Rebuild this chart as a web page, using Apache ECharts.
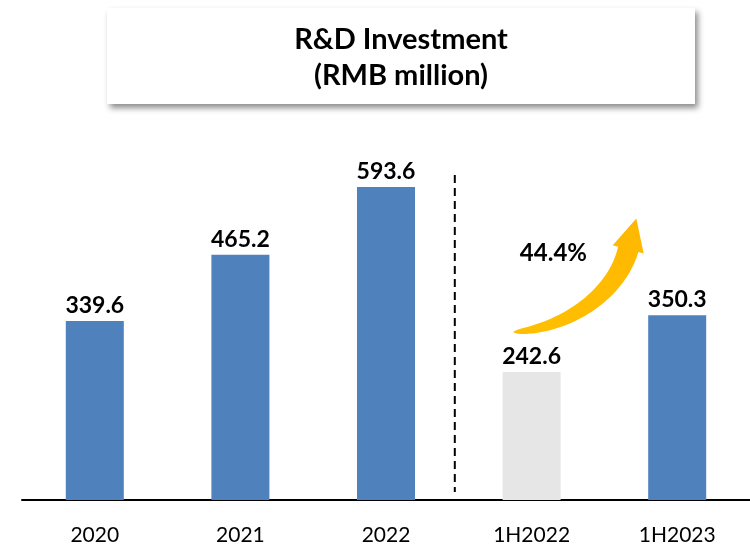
<!DOCTYPE html>
<html>
<head>
<meta charset="utf-8">
<script src="https://cdn.jsdelivr.net/npm/echarts@6/dist/echarts.min.js"></script>
<style>
    html, body { margin: 0; padding: 0; background: #fff; }
    #main { width: 750px; height: 546px; }
</style>
</head>
<body>
<div id="main"></div>
<script>
// ------ data ------
var categories = ["2020", "2021", "2022", "1H2022", "1H2023"];
var values = [339.6, 465.2, 593.6, 242.6, 350.3];
var growthLabel = "44.4%";
var titleLines = ["R&D Investment", "(RMB million)"];

var blue = "#4F81BD";
var grey = "#E6E6E6";
var font = "Lato";

var chart = echarts.init(document.getElementById("main"));

var option = {
    animation: false,
    grid: {
        left: 22,
        right: 0,
        top: 131,
        bottom: 46
    },
    xAxis: {
        type: "category",
        data: categories,
        axisTick: { show: false },
        axisLine: {
            lineStyle: { color: "#000", width: 2 }
        },
        axisLabel: {
            color: "#000",
            fontFamily: font,
            fontSize: 21,
            margin: 25
        }
    },
    yAxis: {
        type: "value",
        min: 0,
        max: 700,
        show: false
    },
    series: [
        {
            type: "bar",
            barWidth: 58,
            data: values.map(function (v, i) {
                return {
                    value: v,
                    // 1H2022 是灰色对比柱
                    itemStyle: { color: categories[i] === "1H2022" ? grey : blue }
                };
            }),
            label: {
                show: true,
                position: "top",
                distance: 4,
                color: "#000",
                fontFamily: font,
                fontWeight: "bold",
                fontSize: 23,
                formatter: function (p) { return p.value.toFixed(1); }
            }
        }
    ]
};
chart.setOption(option);

// ------ 标题框 + 分隔线 + 箭头 ------
function px(cat, v) {
    return chart.convertToPixel({ gridIndex: 0 }, [cat, v]);
}

var pA = px("2022", 0);
var pB = px("1H2022", 0);
var sepX = (pA[0] + pB[0]) / 2 - 4;
var baseY = pA[1];
var topY = px("2022", 593.6)[1] - 12;

// 弯箭头: 从 1H2022 上方弯向 1H2023 (三次贝塞尔)
var t0 = px("1H2022", values[3]);
var t1 = px("1H2023", values[4]);
var tail = [t0[0] - 18, t0[1] - 40];
var headBase = [t1[0] - 49, t1[1] - 66];
var dir = [8, -30.5];
var dl = Math.sqrt(dir[0] * dir[0] + dir[1] * dir[1]);
dir = [dir[0] / dl, dir[1] / dl];
var c1 = [tail[0] + 55, tail[1] - 4];
var c2 = [headBase[0] - dir[0] * 45, headBase[1] - dir[1] * 45];

function bez(t) {
    var u = 1 - t;
    var a = u * u * u, b = 3 * u * u * t, c = 3 * u * t * t, d = t * t * t;
    return [
        a * tail[0] + b * c1[0] + c * c2[0] + d * headBase[0],
        a * tail[1] + b * c1[1] + c * c2[1] + d * headBase[1]
    ];
}
function bezD(t) {
    var u = 1 - t;
    return [
        3 * u * u * (c1[0] - tail[0]) + 6 * u * t * (c2[0] - c1[0]) + 3 * t * t * (headBase[0] - c2[0]),
        3 * u * u * (c1[1] - tail[1]) + 6 * u * t * (c2[1] - c1[1]) + 3 * t * t * (headBase[1] - c2[1])
    ];
}
var left = [], right = [];
var N = 40;
for (var i = 0; i <= N; i++) {
    var t = i / N;
    var p = bez(t);
    var d = bezD(t);
    var l = Math.sqrt(d[0] * d[0] + d[1] * d[1]);
    var nx = -d[1] / l, ny = d[0] / l;
    var w = 0.5 + 10 * Math.pow(t, 0.5);
    left.push([p[0] + nx * w, p[1] + ny * w]);
    right.push([p[0] - nx * w, p[1] - ny * w]);
}
var nrm = [-dir[1], dir[0]];
var headW = 16, headL = 32;
var tip = [headBase[0] + dir[0] * headL, headBase[1] + dir[1] * headL];
var arrowPts = left.concat([
    [headBase[0] + nrm[0] * headW, headBase[1] + nrm[1] * headW],
    tip,
    [headBase[0] - nrm[0] * headW, headBase[1] - nrm[1] * headW]
]).concat(right.reverse());

chart.setOption({
    graphic: [
        {
            type: "rect",
            shape: { x: 107, y: 8, width: 588, height: 96 },
            style: {
                fill: "#fff",
                shadowBlur: 6,
                shadowOffsetX: 3,
                shadowOffsetY: 4,
                shadowColor: "rgba(0,0,0,0.45)"
            }
        },
        {
            type: "text",
            x: 401,
            y: 40,
            style: {
                text: titleLines[0],
                fill: "#000",
                font: "bold 29px " + font,
                align: "center",
                verticalAlign: "middle"
            }
        },
        {
            type: "text",
            x: 401,
            y: 76,
            style: {
                text: titleLines[1],
                fill: "#000",
                font: "bold 29px " + font,
                align: "center",
                verticalAlign: "middle"
            }
        },
        {
            type: "line",
            shape: { x1: sepX, y1: topY, x2: sepX, y2: baseY - 8 },
            style: { stroke: "#000", lineWidth: 2, lineDash: [8, 5] }
        },
        {
            type: "polygon",
            shape: { points: arrowPts },
            style: {
                fill: new echarts.graphic.LinearGradient(0, 1, 1, 0, [
                    { offset: 0, color: "#FFC000" },
                    { offset: 1, color: "#FFB800" }
                ])
            }
        },
        {
            type: "text",
            x: (t0[0] + t1[0]) / 2 - 51,
            y: t0[1] - 119,
            style: {
                text: growthLabel,
                fill: "#000",
                font: "bold 24px " + font,
                align: "center",
                verticalAlign: "middle"
            }
        }
    ]
});

window.addEventListener("resize", function () {
    chart.resize();
});
</script>
</body>
</html>
